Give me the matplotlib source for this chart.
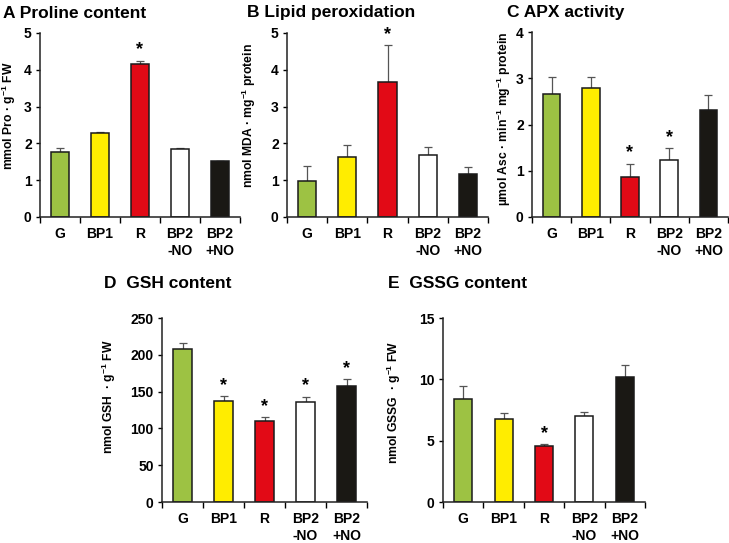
import matplotlib
matplotlib.use("Agg")
import matplotlib.pyplot as plt
import numpy as np

plt.rcParams['font.family'] = ['Liberation Sans', 'DejaVu Sans']
plt.rcParams['font.weight'] = 'bold'
plt.rcParams['mathtext.fontset'] = 'custom'
plt.rcParams['mathtext.rm'] = 'Liberation Sans:bold'
plt.rcParams['mathtext.bf'] = 'Liberation Sans:bold'
plt.rcParams['mathtext.it'] = 'Liberation Sans:bold'

# 处理组
groups = ["G", "BP1", "R", "BP2\n-NO", "BP2\n+NO"]
bar_colors = ["#9dc243", "#ffed00", "#e20a16", "#ffffff", "#1a1814"]

# A 脯氨酸含量
proline = [1.77, 2.29, 4.17, 1.85, 1.52]
proline_err = [0.10, 0.02, 0.08, 0.02, 0.01]
proline_sig = [False, False, True, False, False]

# B 脂质过氧化
mda = [0.98, 1.62, 3.66, 1.68, 1.17]
mda_err = [0.40, 0.35, 1.01, 0.22, 0.18]
mda_sig = [False, False, True, False, False]

# C APX活性
apx = [2.65, 2.80, 0.86, 1.24, 2.32]
apx_err = [0.38, 0.22, 0.29, 0.25, 0.32]
apx_sig = [False, False, True, True, False]

# D GSH含量
gsh = [208, 137, 110, 136, 157]
gsh_err = [8, 7, 5, 7, 10]
gsh_sig = [False, True, True, True, True]

# E GSSG含量
gssg = [8.4, 6.8, 4.6, 7.05, 10.15]
gssg_err = [1.05, 0.45, 0.12, 0.3, 1.05]
gssg_sig = [False, False, True, False, False]

W, H = 729, 543
fig = plt.figure(figsize=(W / 100, H / 100), dpi=100)


def px_axes(x0, x1, ytop, ybot):
    return fig.add_axes([x0 / W, 1 - ybot / H, (x1 - x0) / W, (ybot - ytop) / H])


def draw(ax, vals, errs, sig, ymax, ystep, ylabel, lab_x, lab_y=0.5):
    x = np.arange(len(vals))
    ax.bar(x, vals, width=0.45, color=bar_colors, edgecolor="#1a1a1a", linewidth=1.1, zorder=2)
    ax.errorbar(x, vals, yerr=[np.zeros(len(errs)), errs], fmt="none", ecolor="#555555",
                elinewidth=0.9, capsize=3, capthick=0.9, zorder=1)
    for i in range(len(vals)):
        if sig[i]:
            ax.text(x[i], vals[i] + errs[i] + ymax * 0.012, "*", ha="center", va="bottom",
                    fontsize=13, fontweight="bold")
    ax.set_xlim(-0.5, len(vals) - 0.5)
    ax.set_ylim(0, ymax)
    ax.set_yticks(np.arange(0, ymax + ystep / 2, ystep))
    ax.set_xticks(x)
    ax.set_xticklabels(groups, fontsize=10, fontweight="bold", va="top", linespacing=1.3)
    ax.set_xticks(np.arange(-0.5, len(vals), 1), minor=True)
    ax.tick_params(axis="x", which="major", length=0, pad=7)
    ax.tick_params(axis="x", which="minor", length=4, width=1, direction="out")
    ax.tick_params(axis="y", length=3, width=1, direction="out", labelsize=10, pad=3)
    for lab in ax.get_yticklabels():
        lab.set_fontweight("bold")
    for s in ["top", "right"]:
        ax.spines[s].set_visible(False)
    for s in ["left", "bottom"]:
        ax.spines[s].set_linewidth(1.1)
        ax.spines[s].set_color("#222222")
    ax.set_ylabel(ylabel, fontsize=8.7, fontweight="bold")
    ax.yaxis.set_label_coords(lab_x, lab_y)


axA = px_axes(40, 240, 33, 217)
draw(axA, proline, proline_err, proline_sig, 5, 1, r"mmol Pro · g$^{-1}$ FW", -0.11, 0.55)
axB = px_axes(287, 488, 33, 217)
draw(axB, mda, mda_err, mda_sig, 5, 1, r"nmol MDA · mg$^{-1}$ protein", -0.145, 0.55)
axC = px_axes(532, 728, 32, 217)
draw(axC, apx, apx_err, apx_sig, 4, 1, r"µmol Asc · min$^{-1}$ mg$^{-1}$ protein", -0.097, 0.53)
axD = px_axes(162, 367, 318, 502)
draw(axD, gsh, gsh_err, gsh_sig, 250, 50, r"nmol GSH  · g$^{-1}$ FW", -0.215, 0.57)
axE = px_axes(443, 645, 318, 502)
draw(axE, gssg, gssg_err, gssg_sig, 15, 5, r"nmol GSSG  · g$^{-1}$ FW", -0.198, 0.54)

titles = [("A Proline content", 3, 13), ("B Lipid peroxidation", 247, 13),
          ("C APX activity", 507, 13), ("D  GSH content", 104, 283),
          ("E  GSSG content", 388, 283)]
for t, tx, ty in titles:
    fig.text(tx / W, 1 - ty / H, t, fontsize=12.5, fontweight="bold", ha="left", va="center")

fig.savefig("out.png", dpi=100)
